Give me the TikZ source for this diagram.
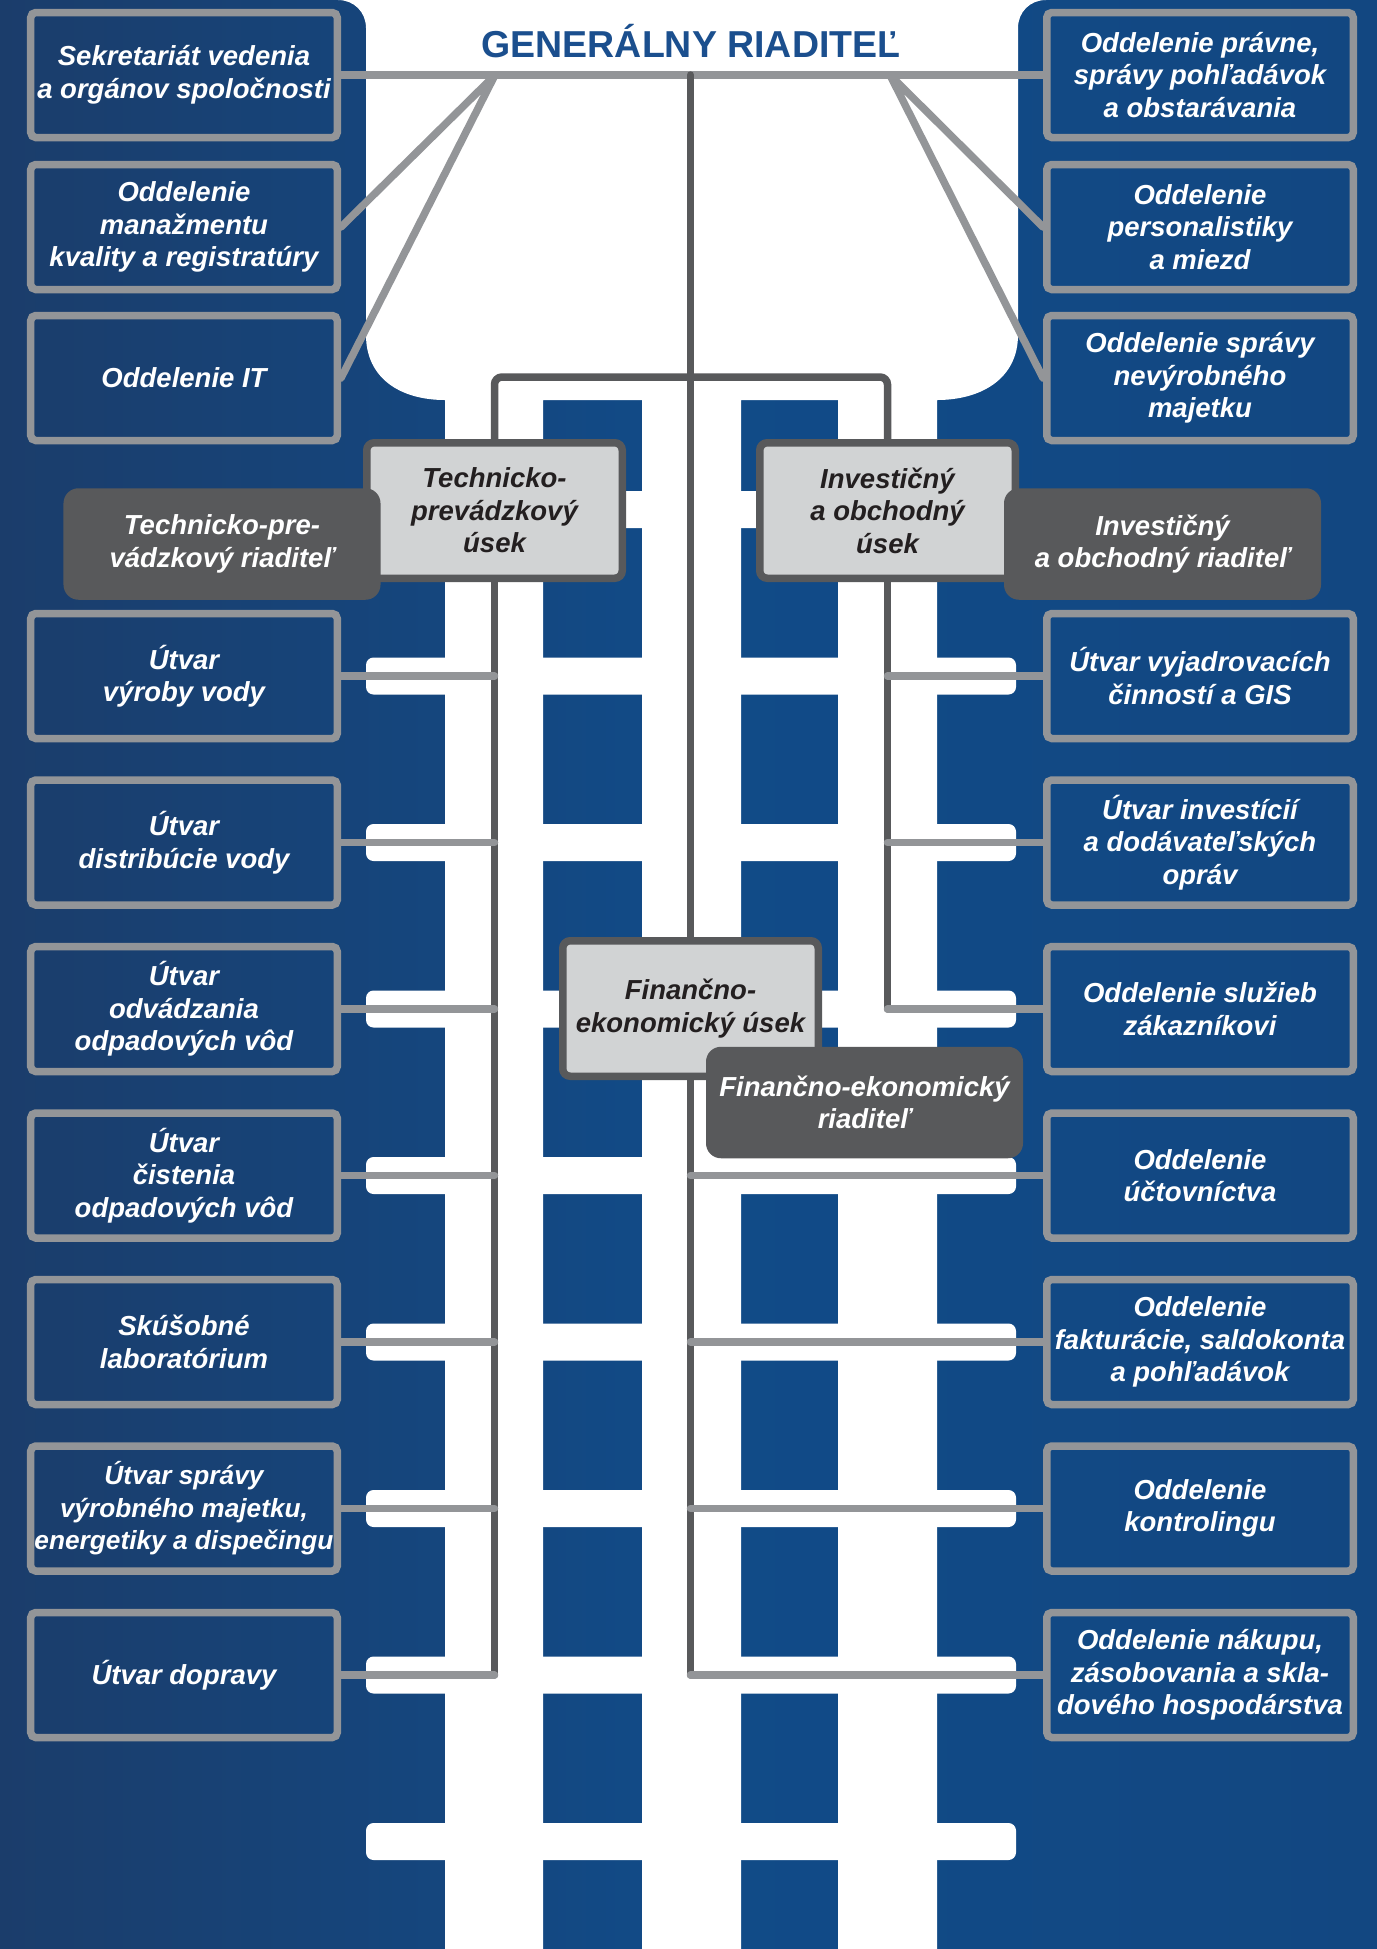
\documentclass[tikz,border=0pt]{standalone}
\usepackage{fontspec}
\setmainfont{Liberation Sans}
\definecolor{bgleft}{HTML}{1B3D6B}
\definecolor{bgmid}{HTML}{114B88}
\definecolor{bgright}{HTML}{124781}
\definecolor{linegray}{HTML}{939598}
\definecolor{trunkgray}{HTML}{58595B}
\definecolor{panegray}{HTML}{D1D3D4}
\definecolor{titleblue}{HTML}{1B4F8E}
\definecolor{inkdark}{HTML}{231F20}

\begin{document}
\begin{tikzpicture}[x=0.4pt, y=-0.4pt,
	txt/.style={font=\bfseries\itshape\fontsize{11}{13}\selectfont, align=center, inner sep=0pt},
	unit/.style={txt, draw=linegray, line width=3pt, rounded corners=2pt, text=white, minimum width=122.6pt, minimum height=50pt},
	dept/.style={txt, draw=trunkgray, fill=panegray, line width=3pt, rounded corners=3pt, text=inkdark, minimum width=102.2pt, minimum height=54.2pt},
	chief/.style={txt, fill=trunkgray, rounded corners=6pt, text=white, minimum width=126.8pt, minimum height=44.6pt},
	link/.style={draw=linegray, line width=3pt, line cap=round},
	trunk/.style={draw=trunkgray, line width=3pt, line cap=round, rounded corners=3pt}]
			\useasboundingbox (0,0) rectangle (1377,1949);
			\shade[left color=bgleft, right color=bgright, middle color=bgmid] (0,0) rectangle (1377,1949);
			\fill[white] (338,0) -- (1046,0) .. controls (1030,0) and (1018,12) .. (1018,28) -- (1018,335)
			.. controls (1018,378) and (982,400) .. (937,400) -- (937,1949) -- (838,1949) -- (838,400)
			-- (741,400) -- (741,1949) -- (642,1949) -- (642,400) -- (543,400) -- (543,1949) -- (445,1949)
			-- (445,400) .. controls (400,400) and (366,378) .. (366,335) -- (366,28) .. controls (366,12) and (354,0) .. (338,0) -- cycle;
			\foreach \k in {0,...,8}
				\fill[white, rounded corners=3pt] (366,{491+166.5*\k}) rectangle (1016,{528+166.5*\k});

			\node[font=\bfseries\fontsize{15}{18}\selectfont, text=titleblue] (gr) at (691,41) {GENERÁLNY RIADITEĽ};
			\coordinate (grL) at (495,75);
			\coordinate (grR) at (890,75);
			\coordinate (grC) at (690.5,75);
			\coordinate (split) at (690.5,377);

			\node[unit] (sekr) at (184,75) {Sekretariát vedenia\\a orgánov spoločnosti};
			\node[unit] (kval) at (184,227) {Oddelenie\\manažmentu\\kvality a registratúry};
			\node[unit] (it) at (184,378) {Oddelenie IT};
			\node[unit] (prav) at (1200,75) {Oddelenie právne,\\správy pohľadávok\\a obstarávania};
			\node[unit] (pers) at (1200,227) {Oddelenie\\personalistiky\\a miezd};
			\node[unit] (nevm) at (1200,378) {Oddelenie správy\\nevýrobného\\majetku};

			\node[unit] (vyr) at (184,676) {Útvar\\výroby vody};
			\node[unit] (dis) at (184,842.5) {Útvar\\distribúcie vody};
			\node[unit] (odv) at (184,1009) {Útvar\\odvádzania\\odpadových vôd};
			\node[unit] (cis) at (184,1175.5) {Útvar\\čistenia\\odpadových vôd};
			\node[unit] (skl) at (184,1342) {Skúšobné\\laboratórium};
			\node[unit, font=\bfseries\itshape\fontsize{10.5}{13}\selectfont] (spr) at (184,1508.5) {Útvar správy\\výrobného majetku,\\energetiky a dispečingu};
			\node[unit] (dop) at (184,1675) {Útvar dopravy};

			\node[unit] (vyj) at (1200,676) {Útvar vyjadrovacích\\činností a GIS};
			\node[unit] (inv) at (1200,842.5) {Útvar investícií\\a dodávateľských\\opráv};
			\node[unit] (sluz) at (1200,1009) {Oddelenie služieb\\zákazníkovi};
			\node[unit] (uct) at (1200,1175.5) {Oddelenie\\účtovníctva};
			\node[unit] (fak) at (1200,1342) {Oddelenie\\fakturácie, saldokonta\\a pohľadávok};
			\node[unit] (kon) at (1200,1508.5) {Oddelenie\\kontrolingu};
			\node[unit] (nak) at (1200,1675) {Oddelenie nákupu,\\zásobovania a skla-\\dového hospodárstva};

			\node[dept] (tpu) at (494.5,510.5) {Technicko-\\prevádzkový\\úsek};
			\node[dept] (iou) at (887.5,510.5) {Investičný\\a obchodný\\úsek};
			\node[dept] (feu) at (690.5,1008.5) {Finančno-\\ekonomický úsek};
			\node[chief] (tpr) at (222,544) {Technicko-pre-\\vádzkový riaditeľ};
			\node[chief] (ior) at (1162.5,544) {Investičný\\a obchodný riaditeľ};
			\node[chief] (fer) at (864.5,1102.5) {Finančno-ekonomický\\riaditeľ};

			\draw[link] (sekr.east) -- (prav.west);
			\draw[link, line join=round] (kval.east) -- (grL) -- (it.east);
			\draw[link, line join=round] (pers.west) -- (grR) -- (nevm.west);
			\draw[trunk] (grC) -- (feu.north);
			\draw[trunk] (tpu.north) |- (split) -| (iou.north);
			\draw[trunk] (tpu.south) -- (tpu.south |- dop.east);
			\draw[trunk] (iou.south) -- (iou.south |- sluz.west);
			\draw[trunk] (feu.south) -- (feu.south |- nak.west);
			\foreach \n in {vyr,dis,odv,cis,skl,spr,dop}
				\draw[link] (\n.east) -- (\n.east -| tpu);
			\foreach \n in {vyj,inv,sluz}
				\draw[link] (\n.west) -- (\n.west -| iou);
			\foreach \n in {uct,fak,kon,nak}
				\draw[link] (\n.west) -- (\n.west -| feu);
\end{tikzpicture}
\end{document}
